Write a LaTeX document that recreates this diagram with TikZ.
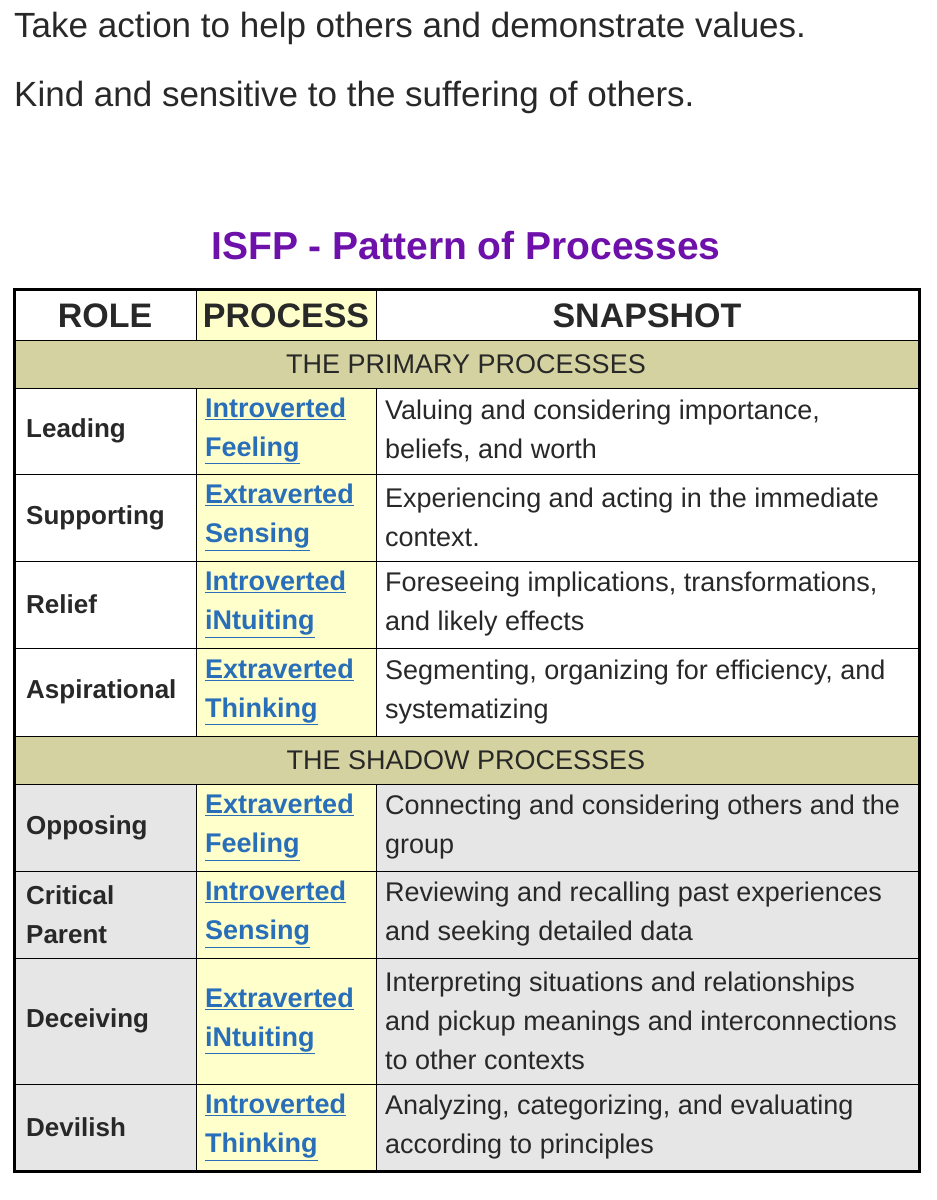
\documentclass[tikz,border=0pt]{standalone}
\usepackage{fontspec}
\setmainfont{Liberation Sans}
\usetikzlibrary{positioning}
\definecolor{bandcol}{RGB}{212,210,160}
\definecolor{proccol}{RGB}{255,255,204}
\definecolor{shadecol}{RGB}{230,230,230}
\definecolor{titlecol}{RGB}{110,16,170}
\definecolor{linkcol}{RGB}{40,110,185}
\definecolor{txtcol}{RGB}{40,40,40}
\newcommand{\lnk}[1]{\textcolor{linkcol}{\underline{#1}}}
\begin{document}
\begin{tikzpicture}[x=1pt,y=-1pt,
  txt/.style={anchor=west,inner sep=0pt,text=txtcol,font=\fontsize{27}{39}\selectfont,align=left},
  role/.style={txt,font=\fontsize{26}{39}\selectfont\bfseries},
  proc/.style={txt,font=\fontsize{27}{39}\selectfont\bfseries},
  head/.style={inner sep=0pt,text=txtcol,font=\fontsize{34}{38}\selectfont\bfseries},
  grid/.style={line width=1pt,black}]
\useasboundingbox (0,0) rectangle (937,1200);
% intro lines
\node[txt,font=\fontsize{35}{40}\selectfont] (l1) at (14,28) {Take action to help others and demonstrate values.};
\node[txt,font=\fontsize{35}{40}\selectfont] (l2) at (14,97) {Kind and sensitive to the suffering of others.};
\node[inner sep=0pt,text=titlecol,font=\fontsize{39}{44}\selectfont\bfseries] (title) at (466,246) {ISFP - Pattern of Processes};
% backgrounds
\fill[proccol] (196,289) rectangle (376,1171);
\fill[bandcol] (14,340) rectangle (919,388);
\fill[bandcol] (14,736) rectangle (919,784);
\fill[shadecol] (14,784) rectangle (196,1171);
\fill[shadecol] (376,784) rectangle (919,1171);
% header
\node[head] (hrole) at (105,316) {ROLE};
\node[head] (hproc) at (286,316) {PROCESS};
\node[head] (hsnap) at (647,316) {SNAPSHOT};
\node[txt,anchor=center] (prim) at (466,364) {THE PRIMARY PROCESSES};
\node[txt,anchor=center] (shad) at (466,760) {THE SHADOW PROCESSES};
% rows
\foreach \top/\bot/\r/\p/\s in {
  388/474/Leading/{\lnk{Introverted}\\\lnk{Feeling}}/{Valuing and considering importance,\\beliefs, and worth},
  474/561/Supporting/{\lnk{Extraverted}\\\lnk{Sensing}}/{Experiencing and acting in the immediate\\context.},
  561/648/Relief/{\lnk{Introverted}\\\lnk{iNtuiting}}/{Foreseeing implications, transformations,\\and likely effects},
  648/736/Aspirational/{\lnk{Extraverted}\\\lnk{Thinking}}/{Segmenting, organizing for efficiency, and\\systematizing},
  784/871/Opposing/{\lnk{Extraverted}\\\lnk{Feeling}}/{Connecting and considering others and the\\group},
  871/958/{Critical\\Parent}/{\lnk{Introverted}\\\lnk{Sensing}}/{Reviewing and recalling past experiences\\and seeking detailed data},
  958/1084/Deceiving/{\lnk{Extraverted}\\\lnk{iNtuiting}}/{Interpreting situations and relationships\\and pickup meanings and interconnections\\to other contexts},
  1084/1171/Devilish/{\lnk{Introverted}\\\lnk{Thinking}}/{Analyzing, categorizing, and evaluating\\according to principles}}{
  \node[role] (r\top) at (26,{(\top+\bot)/2}) {\r};
  \node[proc] (p\top) at (205,{(\top+\bot)/2}) {\p};
  \node[txt] (s\top) at (385,{(\top+\bot)/2}) {\s};
  \draw[grid] (14,\bot) -- (919,\bot);
}
% grid lines
\draw[grid] (14,340) -- (919,340);
\draw[grid] (14,388) -- (919,388);
\draw[grid] (14,784) -- (919,784);
\draw[grid] (196,289) -- (196,340) (376,289) -- (376,340);
\draw[grid] (196,388) -- (196,736) (376,388) -- (376,736);
\draw[grid] (196,784) -- (196,1171) (376,784) -- (376,1171);
\draw[line width=3pt] (14,289) rectangle (919,1171);
\end{tikzpicture}
\end{document}
